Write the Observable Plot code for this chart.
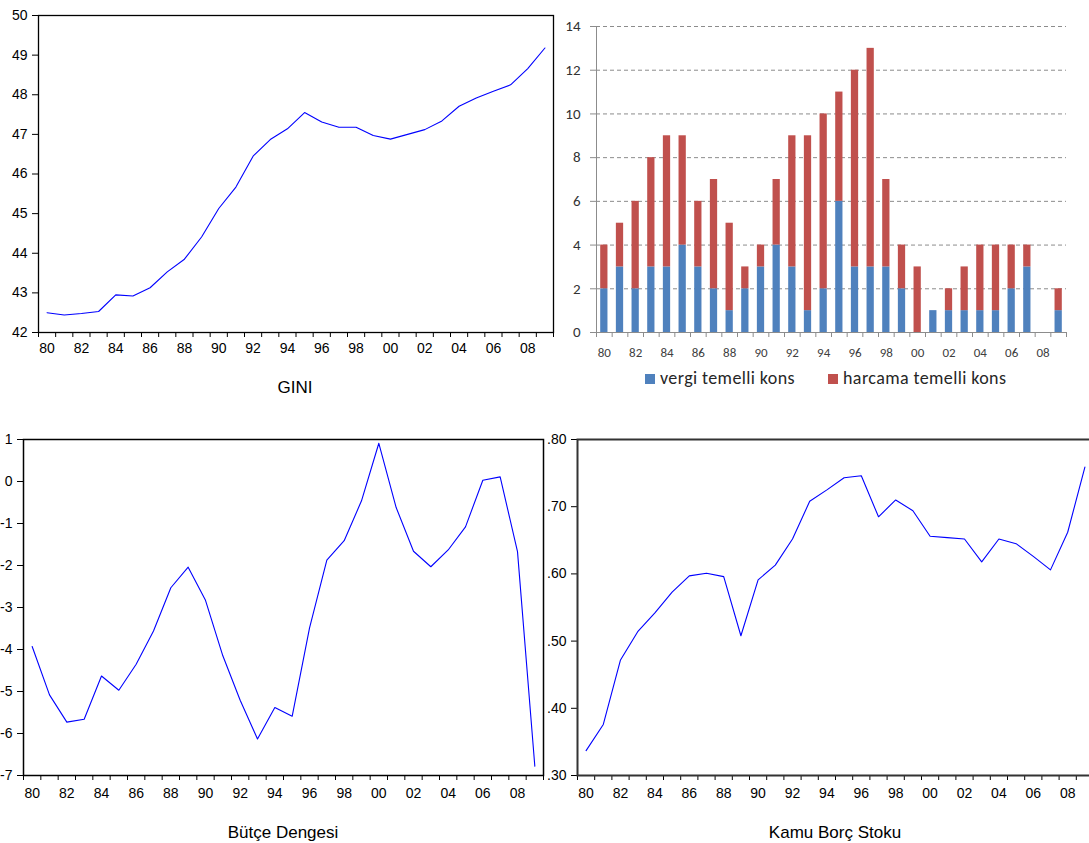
<!DOCTYPE html>
<html>
<head>
<meta charset="utf-8">
<script src="https://cdn.jsdelivr.net/npm/d3@7"></script>
<script src="https://cdn.jsdelivr.net/npm/@observablehq/plot@0.6"></script>
<style>
  html, body { margin: 0; padding: 0; background: #fff; overflow: hidden; }
  #page { position: relative; width: 1089px; height: 843px; overflow: hidden; background: #fff; }
  .panel { position: absolute; }
  .panel svg { max-width: none !important; display: block; }
  .title { position: absolute; width: 300px; text-align: center; white-space: nowrap;
           font-family: "Liberation Sans", Arial, sans-serif; font-size: 17px; line-height: 17px; color: #000; }
  .legend-sw { position: absolute; width: 10px; height: 10px; }
  .legend-tx { position: absolute; white-space: nowrap; font-family: Carlito, Calibri, Lato, sans-serif;
               font-size: 18px; line-height: 18px; letter-spacing: 0.4px; color: #262626; }
</style>
</head>
<body>
<div id="page"></div>
<script>
// ---------- data ----------
const years = [1980,1981,1982,1983,1984,1985,1986,1987,1988,1989,
               1990,1991,1992,1993,1994,1995,1996,1997,1998,1999,
               2000,2001,2002,2003,2004,2005,2006,2007,2008,2009];
const tickYears  = [1980,1982,1984,1986,1988,1990,1992,1994,1996,1998,2000,2002,2004,2006,2008];
const tickLabels = ["80","82","84","86","88","90","92","94","96","98","00","02","04","06","08"];

const gini = [42.50,42.44,42.48,42.53,42.95,42.92,43.13,43.53,43.85,44.41,
              45.13,45.67,46.45,46.87,47.14,47.55,47.31,47.18,47.18,46.97,
              46.88,47.00,47.12,47.34,47.71,47.92,48.09,48.25,48.66,49.18];
const giniTicks = [42,43,44,45,46,47,48,49,50];

const seriesNames = ["vergi temelli kons", "harcama temelli kons"];
const vergi   = [2,3,2,3,3,4,3,2,1,2, 3,4,3,1,2,6,3,3,3,2, 0,1,1,1,1,1,2,3,0,1];
const harcama = [2,2,4,5,6,5,3,5,4,1, 1,3,6,8,8,5,9,10,4,2, 3,0,1,2,3,3,2,1,0,1];
const barTicks = [0,2,4,6,8,10,12,14];
const barColors = ["#4F81BD", "#C0504D"];

const butce = [-3.93,-5.08,-5.73,-5.66,-4.63,-4.97,-4.35,-3.56,-2.53,-2.04,
               -2.83,-4.15,-5.21,-6.13,-5.38,-5.59,-3.49,-1.87,-1.41,-0.46,
                0.91,-0.62,-1.66,-2.03,-1.63,-1.08, 0.03, 0.11,-1.67,-6.78];
const butceTicks = [1,0,-1,-2,-3,-4,-5,-6,-7];

const borc = [0.337,0.376,0.472,0.514,0.542,0.573,0.597,0.601,0.596,0.508,
              0.591,0.613,0.652,0.708,0.725,0.743,0.746,0.685,0.710,0.694,
              0.656,0.654,0.652,0.618,0.652,0.645,0.626,0.606,0.662,0.759];
const borcTicks = [0.30,0.40,0.50,0.60,0.70,0.80];

// ---------- helpers ----------
const labelOf = new Map(tickYears.map((y, i) => [y, tickLabels[i]]));
const boundaries = years.map(y => y - 0.5).concat([years[years.length - 1] + 0.5]);
const xDomain = [boundaries[0], boundaries[boundaries.length - 1]];
const page = document.getElementById("page");

function place(node, left, top) {
  const d = document.createElement("div");
  d.className = "panel";
  d.style.left = left + "px";
  d.style.top = top + "px";
  d.appendChild(node);
  page.appendChild(d);
}
function title(text, center, top) {
  const d = document.createElement("div");
  d.className = "title";
  d.textContent = text;
  d.style.left = (center - 150) + "px";
  d.style.top = top + "px";
  page.appendChild(d);
}

function lineChart({values, yDomain, yTicks, yFormat, width, height, mL, mR, mT, mB,
                    frameStroke, frameWidth, labelPad}) {
  const data = years.map((year, i) => ({year, value: values[i]}));
  return Plot.plot({
    width, height,
    marginLeft: mL, marginRight: mR, marginTop: mT, marginBottom: mB,
    style: {fontFamily: "'Liberation Sans', Arial, sans-serif", fontSize: "14px",
            color: "#000", background: "transparent", overflow: "visible", maxWidth: "none"},
    x: {domain: xDomain, label: null},
    y: {domain: yDomain, label: null},
    marks: [
      Plot.axisY({ticks: yTicks, tickSize: 6, tickPadding: 5, tickFormat: yFormat,
                  label: null, fontSize: 14}),
      Plot.axisX({ticks: boundaries, tickSize: 5, tickFormat: () => "", label: null}),
      Plot.axisX({ticks: tickYears, tickSize: 0, tickPadding: labelPad,
                  tickFormat: d => labelOf.get(d), label: null, fontSize: 14}),
      Plot.line(data, {x: "year", y: "value", stroke: "#0000ff", strokeWidth: 1.1}),
      Plot.frame({stroke: frameStroke, strokeWidth: frameWidth})
    ]
  });
}

// ---------- GINI (top-left) ----------
place(lineChart({values: gini, yDomain: [42, 50], yTicks: giniTicks, yFormat: d => String(d),
  width: 560, height: 360, mL: 38, mR: 7, mT: 15, mB: 28,
  frameStroke: "#000", frameWidth: 1.3, labelPad: 11}), 0, 0);
title("GINI", 295, 379);

// ---------- stacked bars (top-right) ----------
const barData = [];
years.forEach((year, i) => {
  barData.push({year, series: seriesNames[0], value: vergi[i]});
  barData.push({year, series: seriesNames[1], value: harcama[i]});
});
const grey = "#8c8c8c";
const barChart = Plot.plot({
  width: 539, height: 360,
  marginLeft: 46, marginRight: 23, marginTop: 26, marginBottom: 28,
  style: {fontFamily: "Carlito, Calibri, Lato, sans-serif", background: "transparent",
          overflow: "visible", maxWidth: "none"},
  x: {domain: xDomain, label: null},
  y: {domain: [0, 14], label: null},
  color: {domain: seriesNames, range: barColors},
  marks: [
    Plot.ruleY(barTicks.filter(t => t > 0), {stroke: grey, strokeDasharray: "4,3"}),
    Plot.rectY(barData, Plot.stackY({
      x1: d => d.year - 0.5, x2: d => d.year + 0.5, y: "value", fill: "series",
      insetLeft: 4.2, insetRight: 4.2
    })),
    Plot.ruleY([0], {stroke: grey}),
    Plot.ruleX([xDomain[0]], {stroke: grey}),
    Plot.axisY({ticks: barTicks, tickSize: 6, tickPadding: 10, stroke: grey, fill: "#333",
                fontSize: 15, label: null, tickFormat: d => String(d)}),
    Plot.axisX({ticks: boundaries, tickSize: 5, tickFormat: () => "", stroke: grey, label: null}),
    Plot.axisX({ticks: tickYears, tickSize: 0, tickPadding: 15, fill: "#404040", fontSize: 13,
                tickFormat: d => labelOf.get(d), label: null})
  ]
});
place(barChart, 550, 0);

// legend
[[645, 660], [828, 843]].forEach(([sx, tx], i) => {
  const sw = document.createElement("div");
  sw.className = "legend-sw";
  sw.style.left = sx + "px"; sw.style.top = "374px"; sw.style.background = barColors[i];
  page.appendChild(sw);
  const t = document.createElement("div");
  t.className = "legend-tx";
  t.style.left = tx + "px"; t.style.top = "369px";
  t.textContent = seriesNames[i];
  page.appendChild(t);
});

// ---------- Bütçe Dengesi (bottom-left) ----------
place(lineChart({values: butce, yDomain: [-7, 1], yTicks: butceTicks, yFormat: d => String(d),
  width: 560, height: 380, mL: 23, mR: 17, mT: 19, mB: 25,
  frameStroke: "#000", frameWidth: 1.5, labelPad: 13}), 0, 420);
title("Bütçe Dengesi", 283, 824);

// ---------- Kamu Borç Stoku (bottom-right) ----------
place(lineChart({values: borc, yDomain: [0.30, 0.80], yTicks: borcTicks,
  yFormat: d => d3.format(".2f")(d).replace(/^0/, ""),
  width: 560, height: 380, mL: 37, mR: 7, mT: 19, mB: 25,
  frameStroke: "#333", frameWidth: 2, labelPad: 13}), 540, 420);
title("Kamu Borç Stoku", 835, 824);
</script>
</body>
</html>
